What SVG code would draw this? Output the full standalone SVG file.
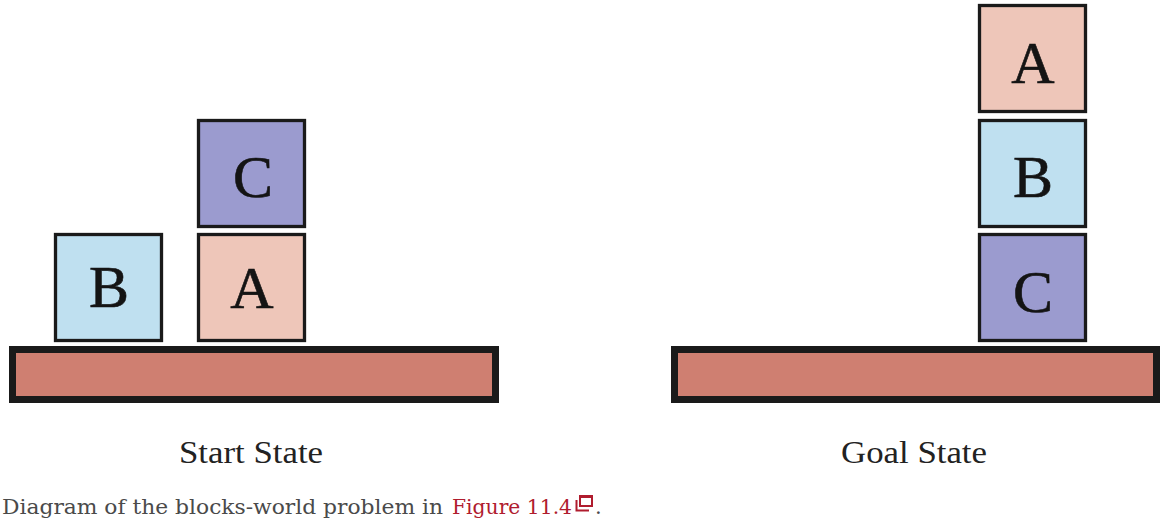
<svg xmlns="http://www.w3.org/2000/svg" width="1163" height="522" viewBox="0 0 1163 522">
<style>
.blk{stroke:#1a1a1a;stroke-width:3.3}
.plat{fill:#cf7f71;stroke:#1a1a1a;stroke-width:7}
.a{fill:#eec6b9}.b{fill:#bfe0f0}.c{fill:#9b9bcf}
.lt{font-family:"Liberation Serif","Times New Roman",serif;font-size:60px;fill:#141414;stroke:#141414;stroke-width:0.6;text-anchor:middle}
.lbl{font-family:"Liberation Serif","Times New Roman",serif;font-size:32px;fill:#222}
.cap{font-family:"DejaVu Serif","Liberation Serif",serif;font-size:21px;fill:#4a4a4a}
</style>
<rect width="1163" height="522" fill="#fff"/>
<g id="start">
<g id="start-table"><rect class="plat" x="12.5" y="349.5" width="483" height="50"/></g>
<g id="start-B"><rect class="blk b" x="55.5" y="234.5" width="106" height="106"/><text class="lt" x="109" y="307">B</text></g>
<g id="start-A"><rect class="blk a" x="198.5" y="234.5" width="106" height="106"/><text class="lt" x="252" y="308">A</text></g>
<g id="start-C"><rect class="blk c" x="198.5" y="120.5" width="106" height="106"/><text class="lt" x="253" y="197">C</text></g>
<text class="lbl" x="179" y="463" textLength="144" lengthAdjust="spacingAndGlyphs">Start State</text>
</g>
<g id="goal">
<g id="goal-table"><rect class="plat" x="674.5" y="349.5" width="482" height="50"/></g>
<g id="goal-C"><rect class="blk c" x="979.5" y="234.5" width="106" height="106"/><text class="lt" x="1033" y="312">C</text></g>
<g id="goal-B"><rect class="blk b" x="979.5" y="120.5" width="106" height="106"/><text class="lt" x="1033" y="197">B</text></g>
<g id="goal-A"><rect class="blk a" x="979.5" y="5.5" width="106" height="106"/><text class="lt" x="1033" y="83">A</text></g>
<text class="lbl" x="841" y="463" textLength="146" lengthAdjust="spacingAndGlyphs">Goal State</text>
</g>
<g id="connectors"></g>
<g id="caption">
<text class="cap" x="2" y="514" textLength="441" lengthAdjust="spacingAndGlyphs">Diagram of the blocks-world problem in</text>
<text class="cap" x="452" y="514" style="fill:#b01c2e" textLength="120" lengthAdjust="spacingAndGlyphs">Figure 11.4</text>
<rect x="580" y="496" width="12" height="10" fill="none" stroke="#b01c2e" stroke-width="2"/>
<rect x="580" y="495" width="12" height="3" fill="#b01c2e"/>
<path d="M576.5 500 V510.5 H589" fill="none" stroke="#b01c2e" stroke-width="2"/>
<text class="cap" x="595" y="514">.</text>
</g>
</svg>
